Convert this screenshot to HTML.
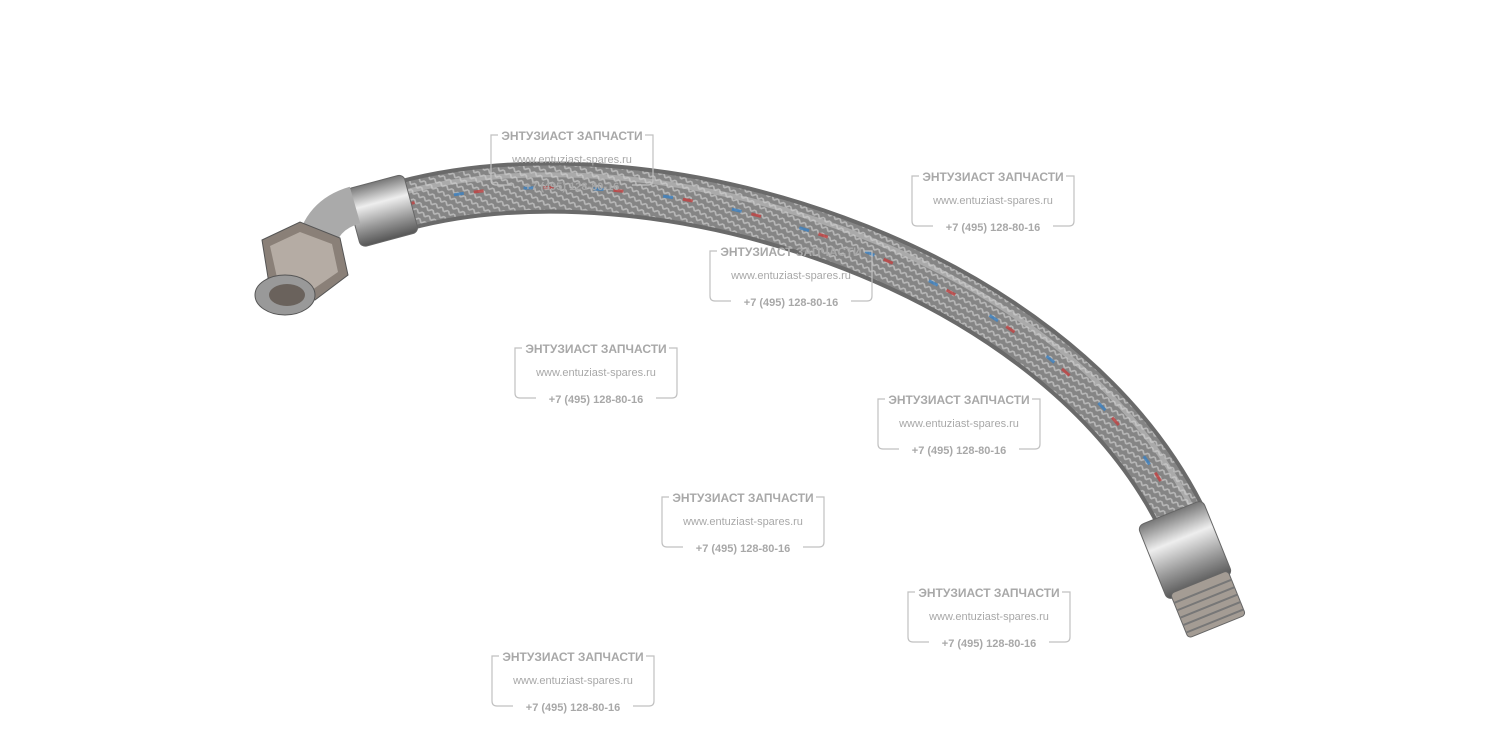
<!DOCTYPE html>
<html><head><meta charset="utf-8"><style>
html,body{margin:0;padding:0;background:#fff}
svg{display:block}
text{font-family:"Liberation Sans","Noto Sans CJK SC",sans-serif;fill:#a8a8a8}
</style></head><body>
<svg width="1500" height="750" viewBox="0 0 1500 750" xmlns="http://www.w3.org/2000/svg">
<defs>
<pattern id="braid" width="7" height="7" patternUnits="userSpaceOnUse" patternTransform="rotate(30)">
<rect width="7" height="7" fill="#858585"/>
<path d="M0 3.5 L3.5 0 L7 3.5" stroke="#b8b8b8" stroke-width="1.6" fill="none"/>
</pattern>
<linearGradient id="metal" x1="0" y1="0" x2="0" y2="1">
<stop offset="0" stop-color="#777"/><stop offset=".35" stop-color="#eee"/><stop offset=".7" stop-color="#999"/><stop offset="1" stop-color="#555"/>
</linearGradient>
</defs>
<path d="M405 205 C650 140, 1050 260, 1180 515" stroke="#6a6a6a" stroke-width="52" fill="none"/>
<path d="M405 205 C650 140, 1050 260, 1180 515" stroke="url(#braid)" stroke-width="44" fill="none"/>
<path d="M405 192 C650 127, 1060 248, 1192 508" stroke="#d0d0d0" stroke-width="5" fill="none" opacity=".5"/>
<path d="M405 205 C650 140, 1050 260, 1180 515" stroke="#c04040" stroke-width="3" stroke-dasharray="10 60" fill="none" opacity=".8"/>
<path d="M405 205 C650 140, 1050 260, 1180 515" stroke="#3a7fc0" stroke-width="3" stroke-dasharray="10 60" stroke-dashoffset="20" fill="none" opacity=".8"/>
<g transform="rotate(-15 385 210)">
<rect x="352" y="180" width="60" height="60" rx="6" fill="url(#metal)" stroke="#666"/>
</g>
<path d="M355 205 Q320 215 315 250" stroke="#aaa" stroke-width="38" fill="none"/>
<polygon points="262,240 300,222 340,238 348,275 315,300 270,290" fill="#8a8078" stroke="#555"/>
<polygon points="270,246 300,232 332,244 338,272 312,290 278,282" fill="#b5aca4"/>
<ellipse cx="285" cy="295" rx="30" ry="20" fill="#999" stroke="#555"/>
<ellipse cx="287" cy="295" rx="18" ry="11" fill="#6a625c"/>
<g transform="rotate(-22 1185 550)">
<rect x="1150" y="510" width="70" height="80" rx="6" fill="url(#metal)" stroke="#666"/>
<rect x="1155" y="585" width="62" height="48" rx="4" fill="#a49c94" stroke="#666"/>
<path d="M1155 595 H1217 M1155 603 H1217 M1155 611 H1217 M1155 619 H1217 M1155 627 H1217" stroke="#777" stroke-width="2"/>
</g>
<g fill="none" stroke="#c0c0c0" stroke-width="1.2">
<path d="M498 135 H491 V180 Q491 185 496 185 H512 M632 185 H648 Q653 185 653 180 V135 H645"/>
<path d="M919 176 H912 V221 Q912 226 917 226 H933 M1053 226 H1069 Q1074 226 1074 221 V176 H1066"/>
<path d="M717 251 H710 V296 Q710 301 715 301 H731 M851 301 H867 Q872 301 872 296 V251 H864"/>
<path d="M522 348 H515 V393 Q515 398 520 398 H536 M656 398 H672 Q677 398 677 393 V348 H669"/>
<path d="M885 399 H878 V444 Q878 449 883 449 H899 M1019 449 H1035 Q1040 449 1040 444 V399 H1032"/>
<path d="M669 497 H662 V542 Q662 547 667 547 H683 M803 547 H819 Q824 547 824 542 V497 H816"/>
<path d="M915 592 H908 V637 Q908 642 913 642 H929 M1049 642 H1065 Q1070 642 1070 637 V592 H1062"/>
<path d="M499 656 H492 V701 Q492 706 497 706 H513 M633 706 H649 Q654 706 654 701 V656 H646"/>
</g>
<g text-anchor="middle" font-size="11">
<g transform="translate(572,0)"><text y="140" font-weight="bold" font-size="12">ЭНТУЗИАСТ ЗАПЧАСТИ</text><text y="163">www.entuziast-spares.ru</text><text y="190" font-weight="bold">+7 (495) 128-80-16</text></g>
<g transform="translate(993,41)"><text y="140" font-weight="bold" font-size="12">ЭНТУЗИАСТ ЗАПЧАСТИ</text><text y="163">www.entuziast-spares.ru</text><text y="190" font-weight="bold">+7 (495) 128-80-16</text></g>
<g transform="translate(791,116)"><text y="140" font-weight="bold" font-size="12">ЭНТУЗИАСТ ЗАПЧАСТИ</text><text y="163">www.entuziast-spares.ru</text><text y="190" font-weight="bold">+7 (495) 128-80-16</text></g>
<g transform="translate(596,213)"><text y="140" font-weight="bold" font-size="12">ЭНТУЗИАСТ ЗАПЧАСТИ</text><text y="163">www.entuziast-spares.ru</text><text y="190" font-weight="bold">+7 (495) 128-80-16</text></g>
<g transform="translate(959,264)"><text y="140" font-weight="bold" font-size="12">ЭНТУЗИАСТ ЗАПЧАСТИ</text><text y="163">www.entuziast-spares.ru</text><text y="190" font-weight="bold">+7 (495) 128-80-16</text></g>
<g transform="translate(743,362)"><text y="140" font-weight="bold" font-size="12">ЭНТУЗИАСТ ЗАПЧАСТИ</text><text y="163">www.entuziast-spares.ru</text><text y="190" font-weight="bold">+7 (495) 128-80-16</text></g>
<g transform="translate(989,457)"><text y="140" font-weight="bold" font-size="12">ЭНТУЗИАСТ ЗАПЧАСТИ</text><text y="163">www.entuziast-spares.ru</text><text y="190" font-weight="bold">+7 (495) 128-80-16</text></g>
<g transform="translate(573,521)"><text y="140" font-weight="bold" font-size="12">ЭНТУЗИАСТ ЗАПЧАСТИ</text><text y="163">www.entuziast-spares.ru</text><text y="190" font-weight="bold">+7 (495) 128-80-16</text></g>
</g>
</svg>
</body></html>
